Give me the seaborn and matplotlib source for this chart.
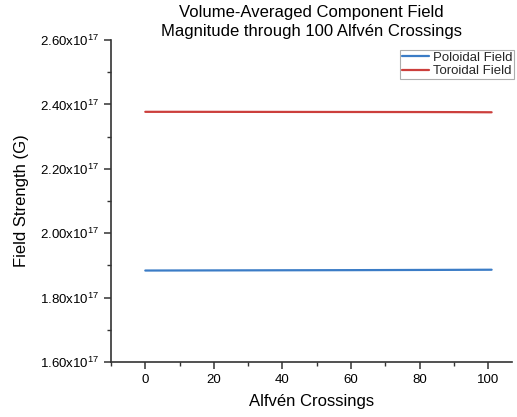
import matplotlib
matplotlib.use("Agg")
import matplotlib.pyplot as plt
import seaborn as sns
import pandas as pd
import numpy as np
from matplotlib.ticker import MultipleLocator, FuncFormatter

sns.set_theme(style="ticks")
plt.rcParams['font.family'] = ['Liberation Sans', 'DejaVu Sans']

crossings = [0, 10, 20, 30, 40, 50, 60, 70, 80, 90, 101]
poloidal = [1.8840e17, 1.8842e17, 1.8844e17, 1.8846e17, 1.8848e17, 1.8850e17,
            1.8852e17, 1.8855e17, 1.8858e17, 1.8861e17, 1.8865e17]
toroidal = [2.3770e17, 2.3770e17, 2.3769e17, 2.3768e17, 2.3767e17, 2.3766e17,
            2.3765e17, 2.3764e17, 2.3763e17, 2.3761e17, 2.3756e17]

df = pd.DataFrame({
    "x": crossings * 2,
    "y": poloidal + toroidal,
    "series": ["Poloidal Field"] * len(crossings) + ["Toroidal Field"] * len(crossings),
})

fig = plt.figure(figsize=(5.17, 4.17), dpi=100)
ax = fig.add_axes([0.2147, 0.132, 0.776, 0.772])
sns.lineplot(data=df, x="x", y="y", hue="series",
             palette={"Poloidal Field": "#3b7cc6", "Toroidal Field": "#cc3f3c"},
             linewidth=1.6, ax=ax)

ax.set_xlim(-10, 107)
ax.set_ylim(1.6e17, 2.6e17)
ax.xaxis.set_major_locator(MultipleLocator(20))
ax.xaxis.set_minor_locator(MultipleLocator(10))
ax.yaxis.set_major_locator(MultipleLocator(0.2e17))
ax.yaxis.set_minor_locator(MultipleLocator(0.1e17))

def fmt(v, pos):
    return r"$\mathregular{%.2fx10^{17}}$" % (v / 1e17)
ax.yaxis.set_major_formatter(FuncFormatter(fmt))

for s in ["top", "right"]:
    ax.spines[s].set_visible(False)
for s in ["left", "bottom"]:
    ax.spines[s].set_color("#333333")
    ax.spines[s].set_linewidth(1.2)
ax.tick_params(which="major", direction="out", length=5, width=1.1, color="#333333",
               labelsize=9.5, labelcolor="black")
ax.tick_params(which="minor", direction="out", length=3, width=1.0, color="#333333")

ax.set_xlabel("Alfvén Crossings", fontsize=12, color="black", labelpad=6)
ax.set_ylabel("Field Strength (G)", fontsize=12, color="black", labelpad=8)
ax.set_title("Volume-Averaged Component Field\nMagnitude through 100 Alfvén Crossings",
             fontsize=12, color="black", pad=3, linespacing=1.3)

leg = ax.legend(loc="upper right", bbox_to_anchor=(1.005, 0.97), fontsize=9.5,
                frameon=True, fancybox=False, borderpad=0.15, handlelength=2.0,
                handletextpad=0.3, labelspacing=0.1, borderaxespad=0)
leg.get_frame().set_edgecolor("#999999")
leg.get_frame().set_linewidth(0.8)

fig.savefig("out.png", dpi=100)
